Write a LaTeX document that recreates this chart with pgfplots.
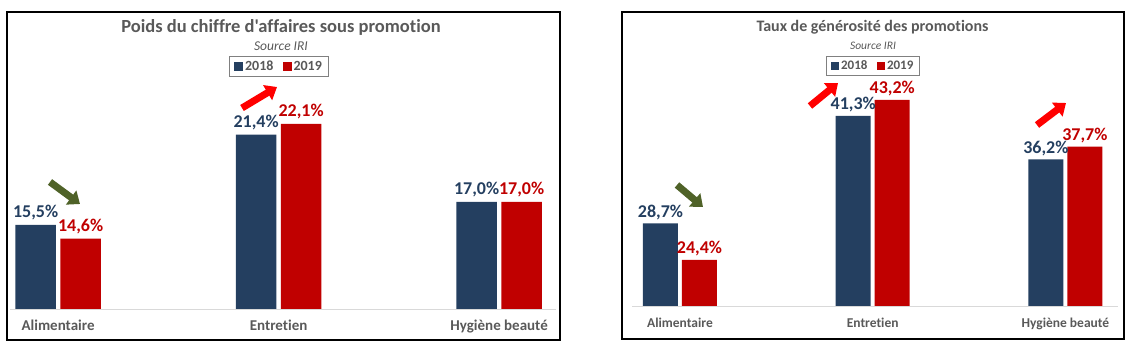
\documentclass[border=0pt]{standalone}
\usepackage{pgfplots}
\pgfplotsset{compat=1.18}
\usepackage{fontspec}
\setmainfont{Carlito}[Ligatures={NoCommon}]
\newfontfamily\calplain{Carlito}[Ligatures={NoCommon}]
\usetikzlibrary{arrows.meta}
\definecolor{navy}{HTML}{243F60}
\definecolor{dred}{HTML}{C00000}
\definecolor{txtgray}{HTML}{595959}
\definecolor{agreen}{HTML}{4F6228}
\definecolor{ared}{HTML}{FF0000}
\pgfplotsset{
  promo/.style={
    scale only axis,
    axis y line=none,
    axis x line*=bottom,
    x axis line style={draw=black!15, line width=0.8pt, -},
    xtick={0,1,2},
    xticklabels={Alimentaire,Entretien,Hygiène beauté},
    major tick length=0pt,
    xticklabel style={text=txtgray, anchor=base, yshift=-22pt},
    nodes near coords={\pgfmathprintnumber[fixed,fixed zerofill,precision=1,use comma,assume math mode=true]{\pgfplotspointmeta}\%},
    every node near coord/.append style={font=\bfseries\fontsize{18}{18}\selectfont, anchor=base, inner sep=0pt},
    legend columns=2,
    legend style={draw=black!50, line width=0.8pt, text=txtgray, anchor=center,
      inner xsep=4.5pt, inner ysep=2.5pt,
      /tikz/every even column/.append style={column sep=7pt}},
  }
}
\begin{document}
\begin{tikzpicture}
\useasboundingbox (0pt,0pt) rectangle (1135pt,353pt);
% frames
\draw[line width=2.5pt] (7pt,13pt) rectangle (560pt,341pt);
\draw[line width=2.5pt] (622pt,14pt) rectangle (1124pt,341pt);
% titles
\node[text=txtgray, font=\calplain\bfseries\fontsize{18.5}{18.5}\selectfont] at (281pt,326pt) {Poids du chiffre d'affaires sous promotion};
\node[text=txtgray, font=\itshape\fontsize{13.5}{13.5}\selectfont] at (281pt,307pt) {Source IRI};
\node[text=txtgray, font=\bfseries\fontsize{16}{16}\selectfont] at (872.5pt,326pt) {Taux de générosité des promotions};
\node[text=txtgray, font=\itshape\fontsize{11.5}{11.5}\selectfont] at (873pt,307pt) {Source IRI};

\begin{axis}[promo,
  at={(10pt,44pt)}, anchor=south west,
  width=546pt, height=229.5pt,
  xmin=-0.218, xmax=2.258, ymin=10, ymax=25,
  ybar=4.5pt, bar width=40.5pt,
  xticklabel style={font=\bfseries\fontsize{15}{15}\selectfont},
  every node near coord/.append style={yshift=7pt},
  legend style={at={(0.4927,1.0566)}, font=\bfseries\fontsize{14}{14}\selectfont},
  legend image code/.code={\fill[#1] (0pt,-4.5pt) rectangle (9pt,4.5pt);},
]
\addplot[fill=navy, draw=none, every node near coord/.append style={text=navy}] coordinates {(0,15.5) (1,21.4) (2,17.0)};
\addplot[fill=dred, draw=none, every node near coord/.append style={text=dred}] coordinates {(0,14.6) (1,22.1) (2,17.0)};
\legend{2018,2019}
\end{axis}

\begin{axis}[promo,
  at={(632pt,47pt)}, anchor=south west,
  width=486pt, height=225.8pt,
  xmin=-0.249, xmax=2.273, ymin=19, ymax=45.5,
  ybar=4pt, bar width=35pt,
  xticklabel style={font=\bfseries\fontsize{13.5}{13.5}\selectfont},
  every node near coord/.append style={yshift=6pt},
  legend style={at={(0.4959,1.063)}, font=\bfseries\fontsize{13}{13}\selectfont},
  legend image code/.code={\fill[#1] (0pt,-4.2pt) rectangle (8.5pt,4.2pt);},
]
\addplot[fill=navy, draw=none, every node near coord/.append style={text=navy}] coordinates {(0,28.7) (1,41.3) (2,36.2)};
\addplot[fill=dred, draw=none, every node near coord/.append style={text=dred}] coordinates {(0,24.4) (1,43.2) (2,37.7)};
\legend{2018,2019}
\end{axis}

% trend arrows
\begin{scope}[line width=7pt, -{Triangle[width=17pt,length=11pt]}]
\draw[agreen] (50pt,171pt) -- (80pt,149pt);
\draw[ared] (242pt,245pt) -- (277pt,266pt);
\draw[agreen] (677pt,168pt) -- (703pt,146pt);
\draw[ared] (810pt,247pt) -- (838pt,270pt);
\draw[ared] (1037pt,228pt) -- (1066pt,250pt);
\end{scope}
\end{tikzpicture}
\end{document}
